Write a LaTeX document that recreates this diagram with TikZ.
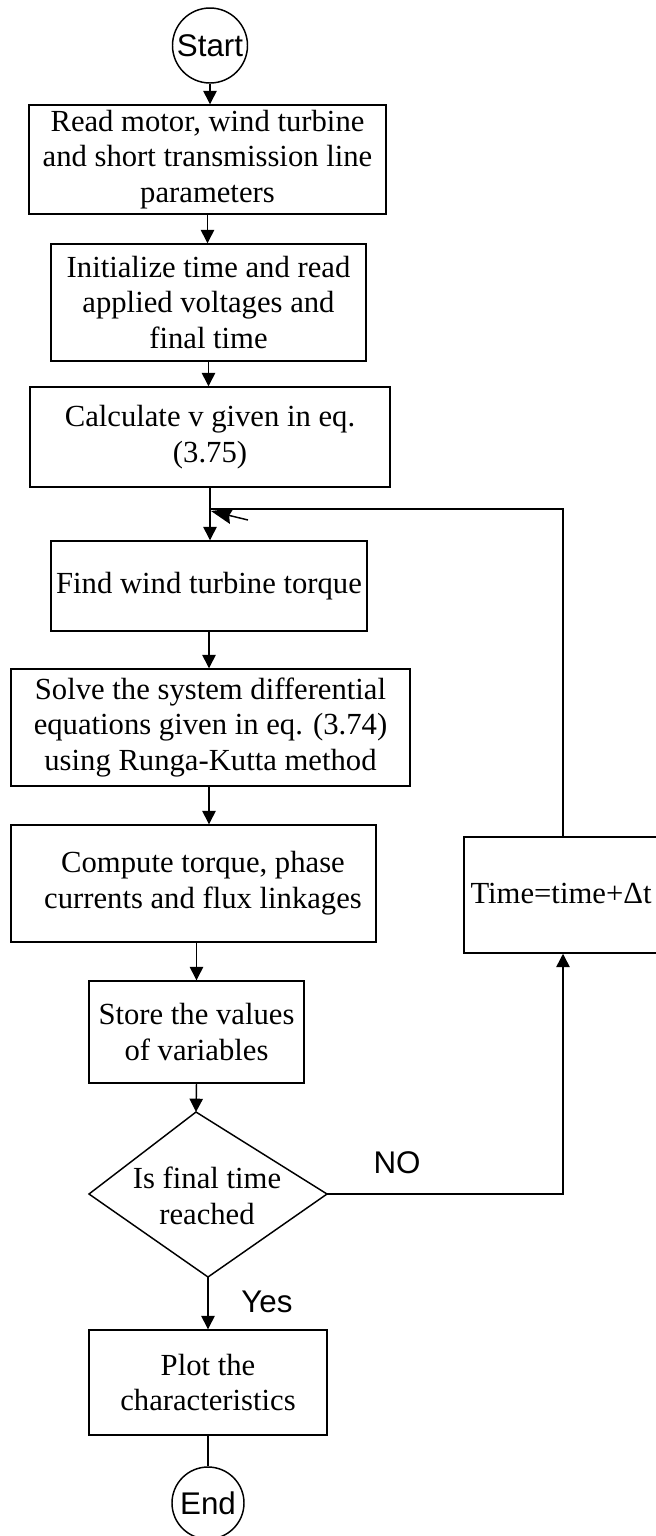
\documentclass[tikz,border=0pt]{standalone}
\usepackage{fontspec}
\setmainfont{Liberation Serif}
\newfontfamily\arialf{Liberation Sans}
\usetikzlibrary{arrows.meta}
\begin{document}
\begin{tikzpicture}[x=0.75pt,y=-0.75pt, line width=1.1pt,
  box/.style={draw, rectangle, inner sep=0pt, align=center, font=\fontsize{23}{26.5}\selectfont},
  txt/.style={inner sep=0pt, align=center, font=\fontsize{23}{26.5}\selectfont},
  term/.style={draw, circle, inner sep=0pt, font=\arialf\fontsize{23.5}{25}\selectfont},
  arr/.style={-{Triangle[length=10pt,width=10pt]}},
  lbl/.style={font=\arialf\fontsize{23.5}{25}\selectfont, inner sep=0pt}]
\useasboundingbox (0,0) rectangle (656,1536);

\node[term, minimum size=0.75*75pt] (start) at (210,45.5) {Start};
\node[box, minimum width=0.75*357pt, minimum height=0.75*109pt] (b1) at (207.5,159.5)
  {Read motor, wind turbine\\and short transmission line\\parameters};
\node[box, minimum width=0.75*315pt, minimum height=0.75*117pt] (b2) at (208.5,302.5)
  {Initialize time and read\\applied voltages and\\final time};
\node[box, minimum width=0.75*360pt, minimum height=0.75*100pt] (b3) at (210,437)
  {Calculate v given in eq.\\(3.75)};
\node[box, minimum width=0.75*316pt, minimum height=0.75*90pt] (b4) at (209,586)
  {Find wind turbine torque};
\node[box, minimum width=0.75*399pt, minimum height=0.75*117pt] (b5) at (210.5,727.5)
  {Solve the system differential\\equations given in eq. (3.74)\\using Runga-Kutta method};
\node[box, minimum width=0.75*365pt, minimum height=0.75*117pt] (b6) at (193.5,883.5) {};
\node[txt] (b6t) at (203,883) {Compute torque, phase\\currents and flux linkages};
\node[box, minimum width=0.75*215pt, minimum height=0.75*102pt] (b7) at (196.5,1032)
  {Store the values\\of variables};

% decision diamond
\coordinate (dT) at (196,1112);
\coordinate (dL) at (89,1194);
\coordinate (dR) at (327,1194);
\coordinate (dB) at (208,1277);
\draw (dT) -- (dR) -- (dB) -- (dL) -- cycle;
\node[txt] (dtext) at (207,1196) {Is final time\\reached};

\node[box, minimum width=0.75*238pt, minimum height=0.75*105pt] (b8) at (208,1382.5)
  {Plot the\\characteristics};
\node[term, minimum size=0.75*72pt] (endc) at (208,1503) {End};

\node[box, minimum width=0.75*198pt, minimum height=0.75*116pt] (tb) at (563,895) {};
\node[txt] (tbt) at (561,893) {Time=time+Δt};

\node[lbl] (no) at (397,1163) {NO};
\node[lbl] (yes) at (267,1302) {Yes};

% main flow
\draw[arr] (start.south) -- (start.south |- b1.north);
\draw[arr] (b1.south) -- (b1.south |- b2.north);
\draw[arr] (b2.south) -- (b2.south |- b3.north);
\draw[arr] (b3.south) -- (b3.south |- b4.north);
\draw[arr] (b4.south) -- (b4.south |- b5.north);
\draw[arr] (b4.south |- b5.south) -- (b4.south |- b6.north);
\draw[arr] (b7.north |- b6.south) -- (b7.north);
\draw[arr] (b7.south) -- (dT);
\draw[arr] (dB) -- (dB |- b8.north);
\draw (b8.south) -- (endc.north);

% loop back
\draw[arr] (dR) -- (tb.south |- dR) -- (tb.south);
\coordinate (fbcorner) at (563,509);
\coordinate (fbend) at (210,509);
\draw (tb.north) -- (fbcorner) -- (fbend);
\coordinate (tail) at (248,520);
\coordinate (tip) at (211,511);
\draw[-{Stealth[length=16pt,width=12pt,inset=2pt]}] (tail) -- (tip);
\end{tikzpicture}
\end{document}
